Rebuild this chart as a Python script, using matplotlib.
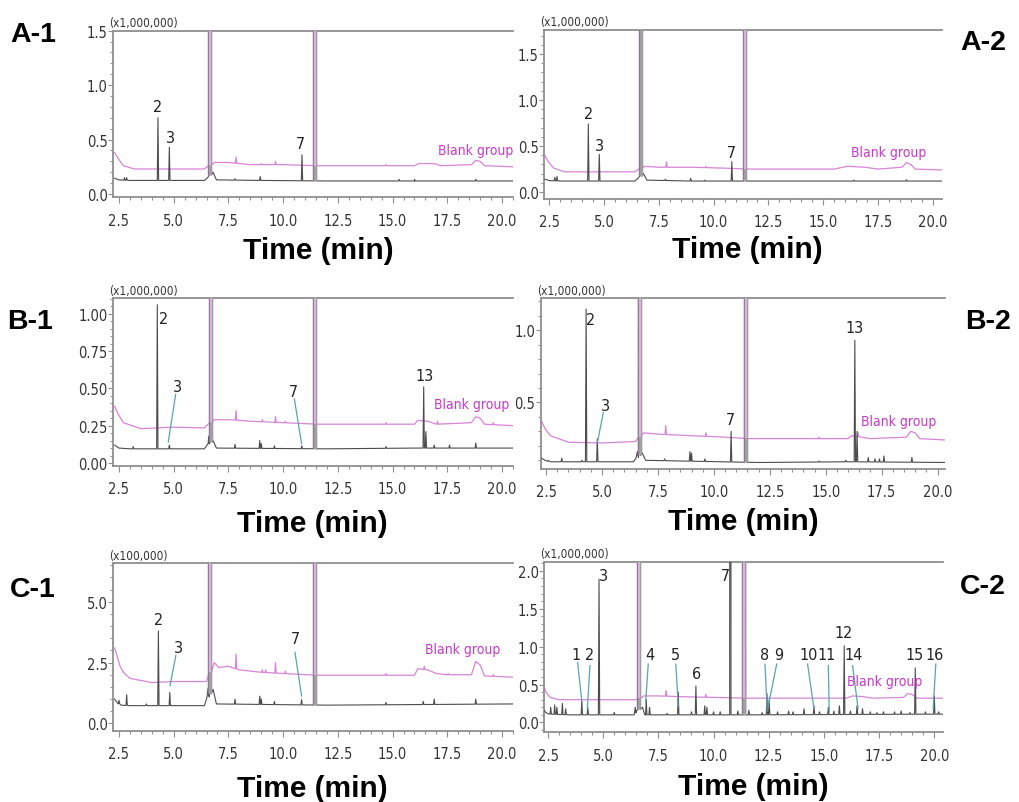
import numpy as np
import matplotlib
matplotlib.use("Agg")
import matplotlib.pyplot as plt
from matplotlib.ticker import MultipleLocator, FormatStrFormatter

# ---------------------------------------------------------------------------
# DATA  (retention time in min; intensity in the unit printed on each panel)
# baseline anchor points + peak apexes for the sample trace and the blank trace
# ---------------------------------------------------------------------------
# A-1 (x1,000,000)
a1_s_base_t = [2.30, 2.50, 3.00, 6.40, 6.55, 6.80, 6.95, 9.00, 12.0, 16.0, 20.5]
a1_s_base_y = [0.145, 0.13, 0.125, 0.125, 0.15, 0.20, 0.13, 0.125, 0.12, 0.12, 0.12]
a1_s_peak_t = [2.75, 2.85, 4.28, 4.80, 6.67, 7.80, 8.95, 10.86, 11.47, 15.3, 16.0, 18.8]
a1_s_peak_h = [0.15, 0.15, 0.70, 0.43, 30.0, 0.14, 0.16, 0.36, 30.0, 0.135, 0.135, 0.135]
a1_b_base_t = [2.30, 2.45, 2.70, 3.20, 6.40, 6.85, 7.50, 8.50, 10.0, 11.6, 14.0, 16.0,
               16.2, 16.9, 17.2, 18.6, 18.8, 19.0, 19.2, 20.5]
a1_b_base_y = [0.38, 0.33, 0.26, 0.23, 0.23, 0.29, 0.29, 0.27, 0.27, 0.26, 0.26, 0.26,
               0.28, 0.28, 0.26, 0.27, 0.31, 0.30, 0.26, 0.25]
a1_b_peak_t = [6.67, 7.85, 9.00, 9.65, 11.47, 14.7]
a1_b_peak_h = [30.0, 0.34, 0.28, 0.30, 30.0, 0.27]

# A-2 (x1,000,000)
a2_s_base_t = [2.30, 2.50, 3.00, 6.40, 6.55, 6.80, 6.95, 9.00, 12.0, 16.0, 20.4]
a2_s_base_y = [0.14, 0.125, 0.12, 0.12, 0.15, 0.20, 0.13, 0.12, 0.12, 0.12, 0.12]
a2_s_peak_t = [2.75, 2.85, 4.28, 4.78, 6.67, 7.80, 8.95, 9.60, 10.83, 11.42, 16.4, 18.8]
a2_s_peak_h = [0.16, 0.17, 0.74, 0.41, 30.0, 0.14, 0.15, 0.13, 0.33, 30.0, 0.13, 0.135]
a2_b_base_t = [2.30, 2.45, 2.70, 3.20, 6.40, 6.85, 7.50, 9.00, 10.5, 11.6, 15.5, 16.1,
               16.9, 17.5, 18.6, 18.8, 19.0, 19.2, 20.4]
a2_b_base_y = [0.40, 0.33, 0.26, 0.22, 0.22, 0.28, 0.27, 0.27, 0.26, 0.25, 0.25, 0.28,
               0.27, 0.25, 0.27, 0.32, 0.30, 0.25, 0.24]
a2_b_peak_t = [6.67, 7.85, 9.65, 11.42]
a2_b_peak_h = [0.62, 0.33, 0.28, 30.0]

# B-1 (x1,000,000)
b1_s_base_t = [2.30, 2.50, 3.00, 6.40, 6.52, 6.80, 6.95, 12.0, 16.0, 20.5]
b1_s_base_y = [0.12, 0.10, 0.095, 0.095, 0.12, 0.15, 0.10, 0.095, 0.10, 0.10]
b1_s_peak_t = [3.15, 4.25, 4.80, 6.60, 6.70, 7.80, 8.93, 9.00, 9.60, 10.85, 11.45,
               14.7, 16.42, 16.52, 16.9, 17.6, 18.8]
b1_s_peak_h = [0.11, 1.06, 0.12, 0.18, 30.0, 0.125, 0.15, 0.13, 0.115, 0.115, 30.0,
               0.11, 0.51, 0.21, 0.12, 0.12, 0.135]
b1_b_base_t = [2.30, 2.45, 2.70, 3.50, 5.00, 6.40, 6.85, 7.60, 8.50, 10.0, 11.6, 16.0,
               16.15, 16.6, 17.0, 18.6, 18.8, 19.0, 19.2, 20.5]
b1_b_base_y = [0.38, 0.33, 0.27, 0.23, 0.24, 0.235, 0.29, 0.29, 0.28, 0.27, 0.26, 0.26,
               0.285, 0.28, 0.26, 0.27, 0.31, 0.30, 0.26, 0.25]
b1_b_peak_t = [6.70, 7.85, 9.05, 9.65, 10.1, 11.45, 14.7, 17.05, 19.6]
b1_b_peak_h = [30.0, 0.35, 0.29, 0.31, 0.28, 30.0, 0.27, 0.28, 0.27]

# B-2 (x1,000,000)
b2_s_base_t = [2.30, 2.45, 2.70, 6.40, 6.50, 6.80, 6.95, 12.0, 16.0, 20.4]
b2_s_base_y = [0.115, 0.10, 0.09, 0.09, 0.11, 0.15, 0.10, 0.085, 0.09, 0.085]
b2_s_peak_t = [2.60, 3.20, 4.10, 4.29, 4.79, 6.58, 6.68, 7.80, 8.93, 9.00, 9.60, 10.77,
               11.42, 14.7, 15.9, 16.30, 16.40, 16.9, 17.2, 17.4, 17.6, 18.85]
b2_s_peak_h = [0.10, 0.115, 0.10, 1.145, 0.25, 0.16, 30.0, 0.11, 0.16, 0.15, 0.11, 0.30,
               30.0, 0.095, 0.10, 0.93, 0.30, 0.12, 0.11, 0.11, 0.13, 0.12]
b2_b_base_t = [2.30, 2.45, 2.70, 3.50, 5.00, 6.50, 6.85, 7.60, 9.00, 10.5, 11.6, 16.0,
               16.15, 16.6, 17.0, 18.6, 18.8, 19.0, 19.2, 20.4]
b2_b_base_y = [0.37, 0.32, 0.27, 0.225, 0.22, 0.23, 0.29, 0.28, 0.27, 0.26, 0.25, 0.25,
               0.27, 0.26, 0.25, 0.26, 0.30, 0.29, 0.25, 0.24]
b2_b_peak_t = [6.68, 7.85, 9.65, 11.42, 14.7, 16.45]
b2_b_peak_h = [30.0, 0.34, 0.29, 30.0, 0.26, 0.29]

# C-1 (x100,000)
c1_s_base_t = [2.30, 2.42, 2.60, 3.00, 6.40, 6.50, 6.80, 6.95, 12.0, 20.5]
c1_s_base_y = [1.00, 0.85, 0.75, 0.73, 0.73, 1.00, 1.40, 0.80, 0.75, 0.80]
c1_s_peak_t = [2.50, 2.85, 3.75, 4.30, 4.82, 6.57, 6.67, 7.80, 8.93, 9.00, 9.60, 10.84,
               11.45, 14.7, 16.4, 16.9, 18.8]
c1_s_peak_h = [0.95, 1.18, 0.80, 3.80, 1.27, 1.45, 90.0, 1.00, 1.12, 1.00, 0.90, 0.98,
               90.0, 0.86, 0.90, 1.00, 1.00]
c1_b_base_t = [2.30, 2.40, 2.55, 2.70, 3.00, 4.00, 5.00, 6.50, 6.85, 7.05, 7.50, 8.00,
               9.00, 10.0, 11.6, 14.5, 16.0, 16.15, 16.6, 17.0, 17.5, 18.6, 18.8, 19.0,
               19.2, 20.5]
c1_b_base_y = [3.10, 2.80, 2.35, 2.10, 1.85, 1.68, 1.72, 1.72, 2.50, 2.30, 2.35, 2.20,
               2.10, 2.05, 1.98, 1.98, 1.98, 2.25, 2.20, 2.05, 2.00, 2.00, 2.55, 2.40,
               1.95, 1.90]
c1_b_peak_t = [6.67, 7.85, 9.05, 9.20, 9.65, 10.1, 11.45, 14.7, 16.45, 17.55, 19.6]
c1_b_peak_h = [90.0, 2.85, 2.20, 2.20, 2.50, 2.15, 90.0, 2.05, 2.35, 2.05, 2.00]

# C-2 (x1,000,000)
c2_s_base_t = [2.30, 2.40, 2.55, 3.50, 6.40, 6.50, 6.78, 6.88, 12.0, 20.5]
c2_s_base_y = [0.17, 0.13, 0.11, 0.10, 0.10, 0.15, 0.20, 0.10, 0.10, 0.11]
c2_s_peak_t = [2.62, 2.80, 2.90, 3.15, 3.30, 4.03, 4.30, 4.81, 5.50, 6.45, 6.62, 6.95,
               7.10, 7.90, 8.40, 9.00, 9.20, 9.60, 9.70, 10.0, 10.3, 10.76, 11.1, 11.40,
               11.6, 12.2, 12.42, 12.52, 12.9, 13.4, 13.6, 14.1, 14.55, 14.8, 15.2, 15.45,
               15.7, 15.92, 16.2, 16.5, 16.75, 17.1, 17.4, 17.7, 18.2, 18.5, 18.9, 19.14,
               19.6, 20.0, 20.2]
c2_s_peak_h = [0.20, 0.23, 0.20, 0.25, 0.18, 0.29, 0.20, 1.89, 0.13, 0.20, 30.0, 0.30,
               0.20, 0.12, 0.40, 0.14, 0.48, 0.22, 0.20, 0.14, 0.14, 30.0, 0.15, 30.0,
               0.16, 0.13, 0.38, 0.30, 0.14, 0.15, 0.14, 0.18, 0.22, 0.14, 0.20, 0.15,
               0.22, 1.01, 0.15, 0.22, 0.18, 0.14, 0.13, 0.14, 0.14, 0.15, 0.13, 0.72,
               0.14, 0.35, 0.14]
c2_b_base_t = [2.30, 2.45, 2.60, 3.00, 6.50, 6.85, 7.50, 8.50, 10.0, 11.6, 16.0, 16.3,
               16.8, 17.2, 18.6, 18.8, 19.0, 19.2, 20.4]
c2_b_base_y = [0.48, 0.38, 0.33, 0.30, 0.30, 0.35, 0.35, 0.34, 0.33, 0.32, 0.32, 0.35,
               0.34, 0.32, 0.33, 0.38, 0.37, 0.32, 0.32]
c2_b_peak_t = [6.62, 7.85, 9.65, 11.40]
c2_b_peak_h = [30.0, 0.42, 0.37, 30.0]

# peak labels: (text, label time, label height, leader line or None)
a1_labels = [("2", 4.25, 0.80, None), ("3", 4.83, 0.52, None), ("7", 10.81, 0.46, None)]
a2_labels = [("2", 4.28, 0.85, None), ("3", 4.78, 0.51, None), ("7", 10.82, 0.43, None)]
b1_labels = [("2", 4.52, 0.97, None),
             ("3", 5.18, 0.51, ((5.09, 0.46), (4.75, 0.14))),
             ("7", 10.46, 0.48, ((10.51, 0.43), (10.84, 0.13))),
             ("13", 16.44, 0.585, None)]
b2_labels = [("2", 4.51, 1.076, None),
             ("3", 5.17, 0.48, ((5.06, 0.43), (4.79, 0.22))),
             ("7", 10.72, 0.38, None),
             ("13", 16.31, 1.02, None)]
c1_labels = [("2", 4.30, 4.29, None),
             ("3", 5.21, 3.12, ((5.10, 2.80), (4.83, 1.55))),
             ("7", 10.54, 3.49, ((10.54, 2.92), (10.84, 1.13)))]
c2_labels = [("1", 3.75, 0.90, ((3.84, 0.79), (4.02, 0.31))),
             ("2", 4.40, 0.90, ((4.40, 0.75), (4.28, 0.18))),
             ("3", 5.03, 1.94, None),
             ("4", 7.12, 0.90, ((7.04, 0.77), (6.92, 0.26))),
             ("5", 8.29, 0.90, ((8.29, 0.77), (8.40, 0.22))),
             ("6", 9.23, 0.65, None),
             ("7", 10.56, 1.94, None),
             ("8", 12.33, 0.90, ((12.33, 0.77), (12.43, 0.15))),
             ("9", 12.93, 0.90, ((12.86, 0.77), (12.48, 0.22))),
             ("10", 14.29, 0.90, ((14.26, 0.77), (14.55, 0.18))),
             ("11", 15.12, 0.90, ((15.20, 0.75), (15.24, 0.15))),
             ("12", 15.87, 1.18, None),
             ("14", 16.33, 0.90, ((16.30, 0.75), (16.55, 0.18))),
             ("15", 19.12, 0.90, None),
             ("16", 20.03, 0.90, ((20.07, 0.77), (19.95, 0.18)))]

# ---------------------------------------------------------------------------
W, H = 1019, 803
fig = plt.figure(figsize=(W / 100, H / 100), dpi=100)

NARROW = ["Liberation Sans Narrow", "DejaVu Sans"]
NSTRETCH = "condensed"
BOLD = ["Liberation Sans", "DejaVu Sans"]
SAMPLE_C = "#4d4d4d"
BLANK_C = "#d884d8"
BIG_BLANK_C = "#d9b3de"
BIG_SAMPLE_C = "#a5a5a5"
BIG_EDGE_C = "#8a7a90"
BLANK_TXT = "#c93ac9"
LEADER_C = "#5aa3b3"
AXIS_C = "#8f8f8f"


def shared_offscale(s_t, s_h, b_t, b_h, top):
    """Times of off-scale (solvent / standard) peaks present in both traces."""
    bt = [t for t, h in zip(b_t, b_h) if h > top]
    return [t for t, h in zip(s_t, s_h)
            if h > top and any(abs(t - u) < 0.1 for u in bt)]


def build(base_t, base_y, peak_t, peak_h, wide_t):
    pts = list(zip(base_t, base_y))
    for t, h in zip(peak_t, peak_h):
        w = 0.05 if any(abs(t - u) < 0.1 for u in wide_t) else 0.03
        b = float(np.interp(t, base_t, base_y))
        pts += [(t - w, b), (t, h), (t + w, b)]
    pts.sort(key=lambda p: p[0])
    arr = np.array(pts)
    return arr[:, 0], arr[:, 1]


def offscale(base_t, base_y, peak_t, peak_h, top, wide_t):
    ts, bs = [], []
    for t, h in zip(peak_t, peak_h):
        if h > top and any(abs(t - u) < 0.1 for u in wide_t):
            ts.append(t)
            bs.append(float(np.interp(t, base_t, base_y)))
    return ts, bs


def fx(x):
    return x / W


def fy(y):
    return 1 - y / H


panels = [
    dict(rect=(113.3, 31.7, 513, 198.3), xlim=(2.24, 20.5), ylim=(-0.03, 1.5001),
         ymaj=0.5, ymin=0.1, fmt="%.1f", mult="(x1,000,000)",
         data=(a1_s_base_t, a1_s_base_y, a1_s_peak_t, a1_s_peak_h,
               a1_b_base_t, a1_b_base_y, a1_b_peak_t, a1_b_peak_h),
         labels=a1_labels, blank=(18.8, 0.40), tag="A-1", tag_xy=(33, 35),
         time_xy=(318, 251)),
    dict(rect=(544.3, 31, 941.7, 200), xlim=(2.27, 20.41), ylim=(-0.075, 1.76),
         ymaj=0.5, ymin=0.1, fmt="%.1f", mult="(x1,000,000)",
         data=(a2_s_base_t, a2_s_base_y, a2_s_peak_t, a2_s_peak_h,
               a2_b_base_t, a2_b_base_y, a2_b_peak_t, a2_b_peak_h),
         labels=a2_labels, blank=(17.97, 0.44), tag="A-2", tag_xy=(983, 43),
         time_xy=(747, 250)),
    dict(rect=(113.3, 299.3, 513, 466.7), xlim=(2.24, 20.5), ylim=(-0.018, 1.103),
         ymaj=0.25, ymin=0.05, fmt="%.2f", mult="(x1,000,000)",
         data=(b1_s_base_t, b1_s_base_y, b1_s_peak_t, b1_s_peak_h,
               b1_b_base_t, b1_b_base_y, b1_b_peak_t, b1_b_peak_h),
         labels=b1_labels, blank=(18.6, 0.395), tag="B-1", tag_xy=(30, 322),
         time_xy=(312, 524)),
    dict(rect=(540.7, 299.3, 945, 470), xlim=(2.26, 20.33), ylim=(0.04, 1.22),
         ymaj=0.5, ymin=0.1, fmt="%.1f", mult="(x1,000,000)",
         data=(b2_s_base_t, b2_s_base_y, b2_s_peak_t, b2_s_peak_h,
               b2_b_base_t, b2_b_base_y, b2_b_peak_t, b2_b_peak_h),
         labels=b2_labels, blank=(18.24, 0.37), tag="B-2", tag_xy=(988, 322),
         time_xy=(743, 522)),
    dict(rect=(113.3, 564.3, 513, 731.7), xlim=(2.24, 20.5), ylim=(-0.3, 6.58),
         ymaj=2.5, ymin=0.5, fmt="%.1f", mult="(x100,000)",
         data=(c1_s_base_t, c1_s_base_y, c1_s_peak_t, c1_s_peak_h,
               c1_b_base_t, c1_b_base_y, c1_b_peak_t, c1_b_peak_h),
         labels=c1_labels, blank=(18.22, 3.05), tag="C-1", tag_xy=(33, 590),
         time_xy=(312, 789)),
    dict(rect=(544.3, 562.7, 943.3, 733.3), xlim=(2.33, 20.41), ylim=(-0.13, 2.12),
         ymaj=0.5, ymin=0.1, fmt="%.1f", mult="(x1,000,000)",
         data=(c2_s_base_t, c2_s_base_y, c2_s_peak_t, c2_s_peak_h,
               c2_b_base_t, c2_b_base_y, c2_b_peak_t, c2_b_peak_h),
         labels=c2_labels, blank=(17.76, 0.55), tag="C-2", tag_xy=(983, 587),
         time_xy=(753, 787)),
]

for p in panels:
    l, t, r, b = p["rect"]
    ax = fig.add_axes([fx(l), fy(b), (r - l) / W, (b - t) / H])
    ax.set_xlim(*p["xlim"])
    ax.set_ylim(*p["ylim"])
    top = p["ylim"][1]
    sbt, sby, spt, sph, bbt, bby, bpt, bph = p["data"]
    # solvent/standard peaks: off-scale in the sample run, present in blank too
    wide = [tt for tt, hh in zip(spt, sph) if hh > top
            and any(abs(tt - u) < 0.1 for u in bpt)]

    bx, byy = build(bbt, bby, bpt, bph, wide)
    sx, syy = build(sbt, sby, spt, sph, wide)
    ax.plot(bx, byy, color=BLANK_C, lw=0.9, zorder=2)
    ax.plot(sx, syy, color=SAMPLE_C, lw=0.8, zorder=3)

    # off-scale peaks drawn as light solid bars over the traces
    ot, ob = offscale(sbt, sby, spt, sph, top, wide)
    ax.vlines(ot, ob, top * 2, color=BIG_EDGE_C, lw=3.2, zorder=3.5)
    ax.vlines(ot, ob, top * 2, color=BIG_SAMPLE_C, lw=1.8, zorder=3.6)
    ot, ob = offscale(bbt, bby, bpt, bph, top, wide)
    ax.vlines(ot, ob, top * 2, color=BIG_BLANK_C, lw=1.6, zorder=3.7)

    for txt, lx, ly, lead in p["labels"]:
        ax.text(lx, ly, txt, ha="center", va="center", fontsize=11.5,
                family=NARROW, fontstretch=NSTRETCH, color="#222222", zorder=5)
        if lead is not None:
            (x0, y0), (x1, y1) = lead
            ax.plot([x0, x1], [y0, y1], color=LEADER_C, lw=0.9, zorder=4)
    ax.text(p["blank"][0], p["blank"][1], "Blank group", ha="center", va="center",
            fontsize=10, family=NARROW, fontstretch=NSTRETCH, color=BLANK_TXT,
            zorder=5)

    for s in ("left", "top", "bottom"):
        ax.spines[s].set_color(AXIS_C)
        ax.spines[s].set_linewidth(1.3)
    ax.spines["right"].set_visible(False)
    ax.xaxis.set_major_locator(MultipleLocator(2.5))
    ax.xaxis.set_minor_locator(MultipleLocator(0.5))
    ax.xaxis.set_major_formatter(FormatStrFormatter("%.1f"))
    ax.yaxis.set_major_locator(MultipleLocator(p["ymaj"]))
    ax.yaxis.set_minor_locator(MultipleLocator(p["ymin"]))
    ax.yaxis.set_major_formatter(FormatStrFormatter(p["fmt"]))
    ax.tick_params(axis="x", which="major", length=4, width=0.8, color=AXIS_C,
                   pad=7, labelsize=10.5, labelcolor="#333333")
    ax.tick_params(axis="x", which="minor", length=2.5, width=0.8, color=AXIS_C)
    ax.tick_params(axis="y", which="major", length=3.5, width=0.8, color=AXIS_C,
                   pad=0.5, labelsize=10.5, labelcolor="#333333")
    ax.tick_params(axis="y", which="minor", length=2, width=0.7, color=AXIS_C)
    for lab in ax.get_xticklabels() + ax.get_yticklabels():
        lab.set_family(NARROW)
        lab.set_fontstretch(NSTRETCH)

    fig.text(fx(l - 4), fy(t) + 0.002, p["mult"], ha="left", va="bottom",
             fontsize=8.5, family=NARROW, fontstretch=NSTRETCH, color="#333333")
    fig.text(fx(p["tag_xy"][0]), fy(p["tag_xy"][1]), p["tag"], ha="center",
             va="center", fontsize=20.5, fontweight="bold", family=BOLD)
    fig.text(fx(p["time_xy"][0]), fy(p["time_xy"][1]), "Time (min)", ha="center",
             va="center", fontsize=21.5, fontweight="bold", family=BOLD)

fig.savefig("out.png", dpi=100, facecolor="white")
